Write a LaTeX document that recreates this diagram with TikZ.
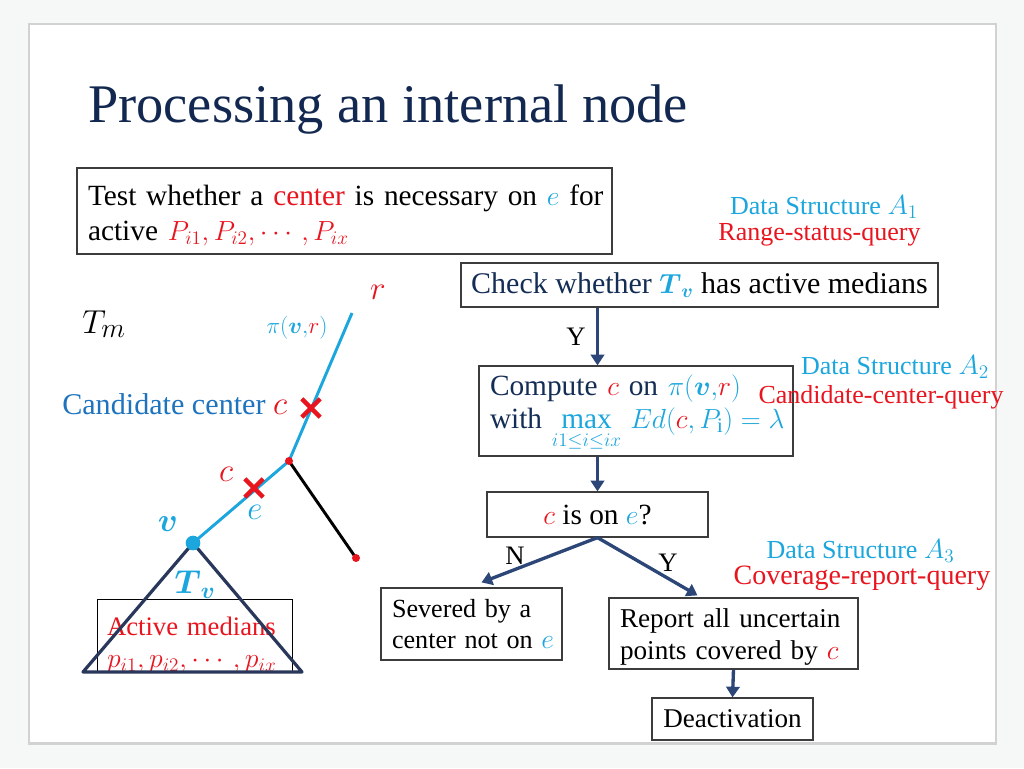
\documentclass[tikz,border=0pt]{standalone}
\usepackage{amsmath}
\usepackage{fontspec}
\setmainfont{Liberation Serif}
\usetikzlibrary{arrows.meta,shapes.misc,calc}
\definecolor{cy}{RGB}{28,166,222}
\definecolor{blu}{RGB}{30,115,190}
\definecolor{rd}{RGB}{232,20,30}
\definecolor{navy}{RGB}{18,40,80}
\definecolor{navytext}{RGB}{20,45,85}
\definecolor{arrowc}{RGB}{45,70,120}
\definecolor{tric}{RGB}{40,55,90}
\definecolor{boxc}{RGB}{60,60,60}
\definecolor{bgout}{RGB}{246,247,247}
\newcommand\fs[2]{\fontsize{#1}{#2}\selectfont}
\begin{document}
\begin{tikzpicture}[x=0.75pt,y=-0.75pt,
  box/.style={draw=boxc,line width=0.9pt,inner sep=0pt,fill=white},
  arr/.style={draw=arrowc,line width=2.5pt,-{Triangle[width=10pt,length=8pt]}},
  lbl/.style={font=\fs{20}{20}},
  xmark/.style={cross out,draw=rd,line width=3.2pt,minimum size=10.5pt,inner sep=0pt},
  dot/.style={circle,fill=rd,inner sep=0pt,minimum size=6pt},
  dsc/.style={text=cy,font=\fs{19.5}{21},inner sep=0pt},
  dsr/.style={text=rd,font=\fs{19.5}{21},inner sep=0pt}]
\useasboundingbox (0,0) rectangle (1024,768);
% slide background
\fill[bgout] (0,0) rectangle (1024,768);
\fill[gray!35] (28,23) rectangle (997,745);
\fill[white] (30,25) rectangle (995,742);
% title
\node[anchor=base west,text=navy,font=\fs{40.8}{48},inner sep=0pt] (title) at (88,122) {Processing an internal node};
% top box
\node[box,minimum width=401.25pt,minimum height=64.5pt,text width=384.75pt,align=left,font=\fs{22}{26.25}] (test) at (344.5,211)
  {\mbox{\rule{0pt}{22pt}Test whether a \textcolor{rd}{center} is necessary on $\textcolor{cy}{e}$ for}\\ \mbox{active $\textcolor{rd}{P_{i1}, P_{i2}, \cdots, P_{ix}}$}};
% data structure labels
\node[dsc] (dsA1) at (824,207) {Data Structure $A_1$};
\node[dsr] (dsA2) at (819.5,235) {Range-status-query};
% flowchart
\node[box,minimum width=357.75pt,minimum height=33pt,font=\fs{22.5}{27}] (check) at (699.5,285)
  {\textcolor{navytext}{Check whether} $\textcolor{cy}{\boldsymbol{T}_{\boldsymbol{v}}}$ has active medians};
\node[box,minimum width=235.5pt,minimum height=67.5pt,text width=219pt,align=left,font=\fs{22}{24.75}] (compute) at (636,411)
  {\mbox{\rule{0pt}{19pt}\textcolor{navytext}{Compute} $\textcolor{rd}{c}$ \textcolor{navytext}{on} $\textcolor{cy}{\pi(\boldsymbol{v},}\textcolor{rd}{r}\textcolor{cy}{)}$}\\
   \mbox{\textcolor{navytext}{with} ${\color{cy}\max\limits_{i1\le i\le ix}\, Ed(}\textcolor{rd}{c}{\color{cy}, P_{\mathrm{i}}) = \lambda}$}};
\node[box,minimum width=165.75pt,minimum height=33.75pt,font=\fs{22}{24}] (cone) at (597.5,514.5)
  {$\textcolor{rd}{c}$ is on $\textcolor{cy}{e}$?};
\node[box,minimum width=135.75pt,minimum height=54pt,text width=119.25pt,align=left,font=\fs{19.6}{23}] (severed) at (471.5,624)
  {\mbox{Severed by a}\\ \mbox{center not on $\textcolor{cy}{e}$}};
\node[box,minimum width=186.75pt,minimum height=53.25pt,text width=170.25pt,align=left,font=\fs{20.4}{24}] (report) at (733.5,633.5)
  {\mbox{\rule{0pt}{20pt}Report all uncertain}\\ \mbox{points covered by $\textcolor{rd}{c}$}};
\node[box,minimum width=120.75pt,minimum height=31.5pt,font=\fs{20.3}{24}] (deact) at (732.5,719) {Deactivation};
\node[dsc] (dsB1) at (895,367) {Data Structure $A_2$};
\node[dsr] (dsB2) at (881,397) {Candidate-center-query};
\node[dsc] (dsC1) at (860.5,551) {Data Structure $A_3$};
\node[dsr,font=\fs{21}{21}] (dsC2) at (862,578) {Coverage-report-query};
% arrows
\draw[arr] (cone.north |- check.south) -- (cone.north |- compute.north);
\draw[arr] (cone.north |- compute.south) -- (cone.north);
\draw[arr] (cone.south) -- ([shift={(10,-5)}]severed.north);
\draw[arr] (cone.south) -- ([shift={(-36,-2)}]report.north);
\draw[arr] (report.south) -- (deact.north);
\node[lbl] (lY1) at (576,337) {Y};
\node[lbl] (lN) at (515,556) {N};
\node[lbl] (lY2) at (668,563) {Y};
% left tree diagram
\coordinate (rtop) at (352,313);
\coordinate (bend) at (289,461);
\coordinate (leaf) at (356,558);
\coordinate (v) at (193,543);
\coordinate (tl) at (83,672);
\coordinate (tr) at (302,672);
\node[draw=black,line width=0.75pt,minimum width=146.25pt,minimum height=54pt,text width=131.25pt,align=left,inner sep=0pt,text=rd,font=\fs{20}{24}] (active) at (194.5,636)
  {\mbox{\rule{0pt}{27pt}Active medians}\\ \mbox{$p_{i1}, p_{i2}, \cdots, p_{ix}$}};
\draw[tric,line width=2.4pt,line join=round] (tl) -- (v) -- (tr) -- cycle;
\draw[black,line width=2.2pt] (bend) -- (leaf);
\draw[cy,line width=2.2pt,line join=round] (rtop) -- (bend) -- (v);
\node[dot] (bdot) at (bend) {};
\node[dot] (ldot) at (leaf) {};
\node[circle,fill=cy,inner sep=0pt,minimum size=11pt] (vdot) at (v) {};
\node[xmark] (x1) at (311,408) {};
\node[xmark] (x2) at (254,488) {};
\node[anchor=base west,inner sep=0pt,font=\fs{30}{30}] (Tm) at (82,333) {$T_m$};
\node[text=rd,font=\fs{24}{24}] (rl) at (378,292) {$r$};
\node[font=\fs{17}{17}] (pil) at (297,328) {$\textcolor{cy}{\pi(\boldsymbol{v},}\textcolor{rd}{r}\textcolor{cy}{)}$};
\node[anchor=base west,inner sep=0pt,text=blu,font=\fs{22.6}{24}] (cand) at (62,414) {Candidate center \textcolor{rd}{\fs{30}{30}$c$}};
\node[text=rd,font=\fs{26}{26}] (cl) at (226,474) {$c$};
\node[text=cy,font=\fs{24}{24}] (el) at (255,512) {$e$};
\node[text=cy,font=\fs{27}{27}] (vl) at (168,524) {$\boldsymbol{v}$};
\node[text=cy,font=\fs{26}{26}] (Tv) at (195,585) {$\boldsymbol{T}_{\boldsymbol{v}}$};
\end{tikzpicture}
\end{document}
